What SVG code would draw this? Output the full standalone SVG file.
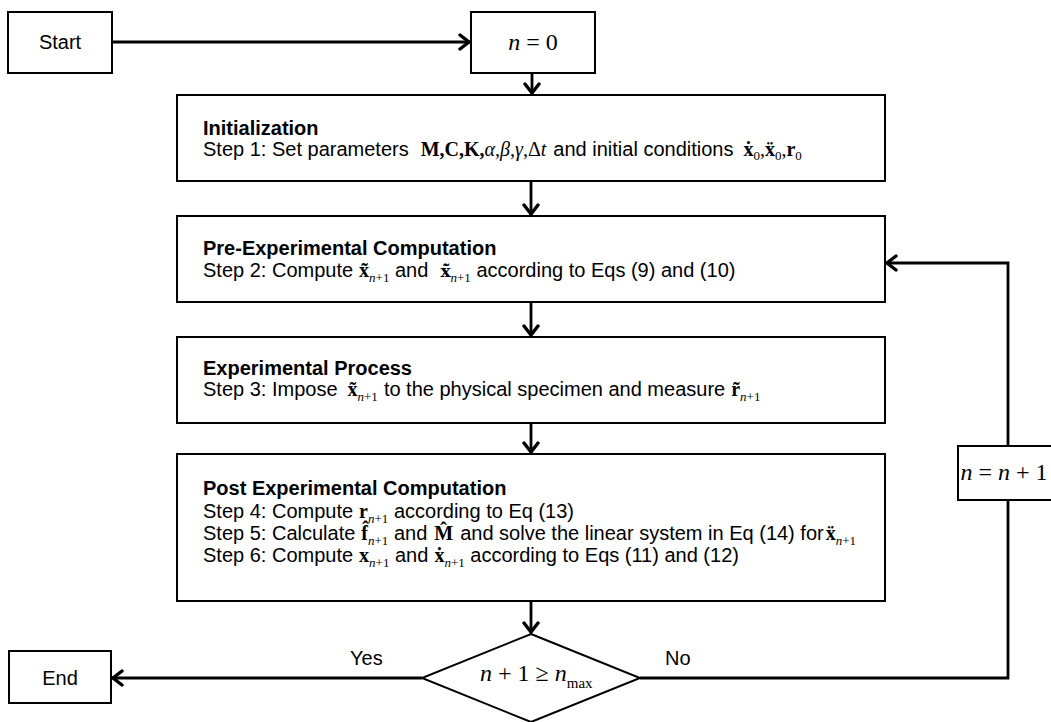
<svg xmlns="http://www.w3.org/2000/svg" width="1051" height="722" viewBox="0 0 1051 722">
<style>
.box{fill:#fff;stroke:#000;stroke-width:2}
.ln{fill:none;stroke:#000;stroke-width:2.8}
.t{font-family:"Liberation Sans",Arial,sans-serif;font-size:20px;fill:#000}
.h{font-weight:bold}
.mb{font-family:"Liberation Serif","Times New Roman",serif;font-weight:bold}
.dj{font-family:"DejaVu Serif",serif;font-weight:bold;font-size:17px}
.mi{font-family:"Liberation Serif","Times New Roman",serif;font-style:italic}
.mr{font-family:"Liberation Serif","Times New Roman",serif}
.s{font-family:"Liberation Serif","Times New Roman",serif;font-size:13px;font-weight:normal}
.i{font-style:italic}
.big{font-family:"Liberation Serif","Times New Roman",serif;font-size:24px}
</style>
<defs>
<marker id="ah" viewBox="0 0 14 18" refX="12" refY="9" markerWidth="14" markerHeight="18" markerUnits="userSpaceOnUse" orient="auto">
<path d="M2,2 L11,9 L2,16" fill="none" stroke="#000" stroke-width="3.4" stroke-linecap="round" stroke-linejoin="miter"/>
</marker>
</defs>

<g id="connectors">
<line class="ln" x1="112" y1="42" x2="470" y2="42" marker-end="url(#ah)"/>
<line class="ln" x1="532" y1="73" x2="532" y2="94" marker-end="url(#ah)"/>
<line class="ln" x1="531" y1="181" x2="531" y2="215" marker-end="url(#ah)"/>
<line class="ln" x1="531" y1="302" x2="531" y2="336" marker-end="url(#ah)"/>
<line class="ln" x1="531" y1="423" x2="531" y2="453" marker-end="url(#ah)"/>
<line class="ln" x1="531" y1="601" x2="531" y2="633" marker-end="url(#ah)"/>
<line class="ln" x1="422" y1="678" x2="112" y2="678" marker-end="url(#ah)"/>
<polyline class="ln" points="640,678 1008,678 1008,500"/>
<polyline class="ln" points="1008,446 1008,263 886,263" marker-end="url(#ah)"/>
<text class="t" x="350" y="665">Yes</text>
<text class="t" x="665" y="665">No</text>
</g>

<g id="start">
<rect class="box" x="8" y="12" width="104" height="61"/>
<text class="t" x="60" y="49" text-anchor="middle">Start</text>
</g>

<g id="n0">
<rect class="box" x="471" y="12" width="124" height="61"/>
<text class="big" x="533" y="50" text-anchor="middle"><tspan class="i">n</tspan> = 0</text>
</g>

<g id="init">
<rect class="box" x="177" y="95" width="708" height="86"/>
<text class="t h" x="203" y="135">Initialization</text>
<text class="t" x="203" y="156">Step 1: Set parameters<tspan class="mb" dx="12">M,C,K,</tspan><tspan class="mi">α,β,γ,</tspan><tspan class="mr">Δ</tspan><tspan class="mi">t</tspan><tspan dx="7">and initial conditions</tspan><tspan class="mb" dx="10">ẋ</tspan><tspan class="s" dy="4">0</tspan><tspan class="mr" dy="-4">,</tspan><tspan class="mb">ẍ</tspan><tspan class="s" dy="4">0</tspan><tspan class="mr" dy="-4">,</tspan><tspan class="mb">r</tspan><tspan class="s" dy="4">0</tspan></text>
</g>

<g id="pre">
<rect class="box" x="177" y="216" width="708" height="86"/>
<text class="t h" x="203" y="255">Pre-Experimental Computation</text>
<text class="t" x="203" y="277">Step 2: Compute<tspan class="mb" dx="6">x̃</tspan><tspan class="s" dy="5"><tspan class="i">n</tspan>+1</tspan><tspan dy="-5"> and</tspan><tspan class="dj" dx="12">ẋ̃</tspan><tspan class="s" dy="5"><tspan class="i">n</tspan>+1</tspan><tspan dy="-5"> according to Eqs (9) and (10)</tspan></text>
</g>

<g id="exp">
<rect class="box" x="177" y="337" width="708" height="86"/>
<text class="t h" x="203" y="375">Experimental Process</text>
<text class="t" x="203" y="396">Step 3: Impose<tspan class="mb" dx="10">x̃</tspan><tspan class="s" dy="5"><tspan class="i">n</tspan>+1</tspan><tspan dy="-5" dx="6">to the physical specimen and measure</tspan><tspan class="mb" dx="6">r̃</tspan><tspan class="s" dy="5"><tspan class="i">n</tspan>+1</tspan></text>
</g>

<g id="post">
<rect class="box" x="177" y="454" width="708" height="147"/>
<text class="t h" x="203" y="495">Post Experimental Computation</text>
<text class="t" x="203" y="518">Step 4: Compute<tspan class="mb" dx="6">r</tspan><tspan class="s" dy="5"><tspan class="i">n</tspan>+1</tspan><tspan dy="-5"> according to Eq (13)</tspan></text>
<text class="t" x="203" y="540">Step 5: Calculate<tspan class="mb" dx="6">f̂</tspan><tspan class="s" dy="5"><tspan class="i">n</tspan>+1</tspan><tspan dy="-5"> and</tspan><tspan class="mb" dx="7">M̂</tspan><tspan dx="7">and solve the linear system in Eq (14) for</tspan><tspan class="mb" dx="2">ẍ</tspan><tspan class="s" dy="5"><tspan class="i">n</tspan>+1</tspan></text>
<text class="t" x="203" y="562">Step 6: Compute<tspan class="mb" dx="6">x</tspan><tspan class="s" dy="5"><tspan class="i">n</tspan>+1</tspan><tspan dy="-5"> and</tspan><tspan class="mb" dx="6">ẋ</tspan><tspan class="s" dy="5"><tspan class="i">n</tspan>+1</tspan><tspan dy="-5"> according to Eqs (11) and (12)</tspan></text>
</g>

<g id="decision">
<polygon class="box" points="531,634 640,678 531,722 422,678"/>
<text class="big" x="480" y="681"><tspan class="i">n</tspan> + 1 ≥ <tspan class="i">n</tspan><tspan font-size="15" dy="7">max</tspan></text>
</g>

<g id="end">
<rect class="box" x="9" y="651" width="102" height="52"/>
<text class="t" x="60" y="685" text-anchor="middle">End</text>
</g>

<g id="incr">
<rect class="box" x="958" y="446" width="96" height="54"/>
<text class="big" x="1004" y="480" text-anchor="middle"><tspan class="i">n</tspan> = <tspan class="i">n</tspan> + 1</text>
</g>
</svg>
